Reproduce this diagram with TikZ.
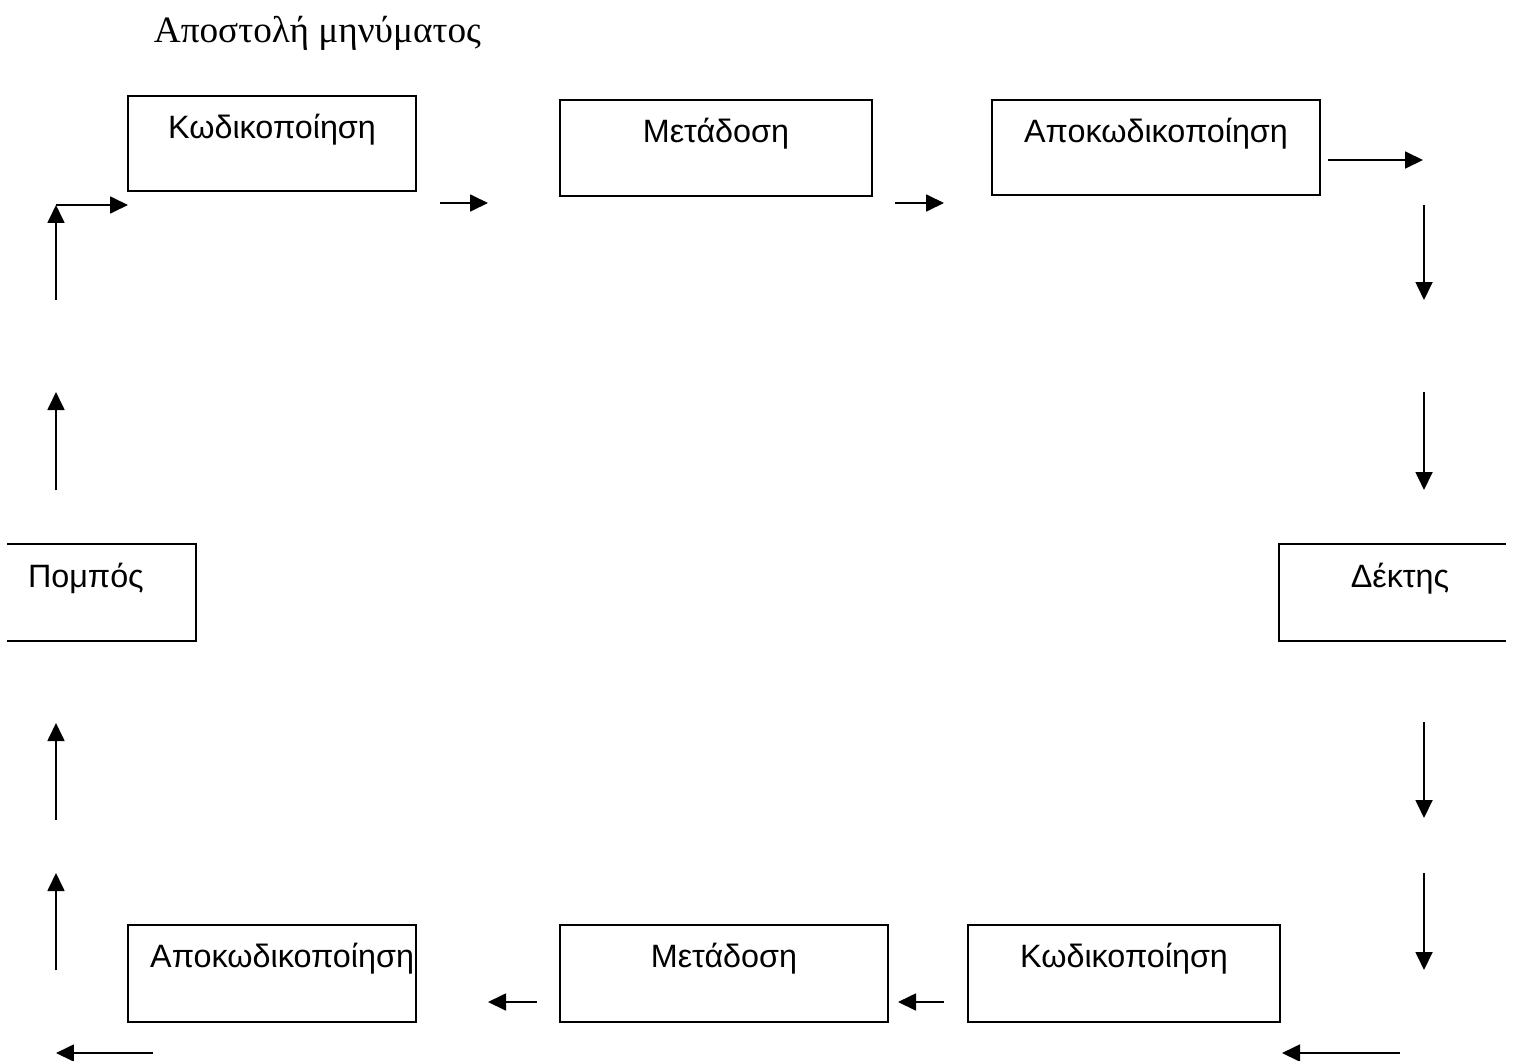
\documentclass[tikz,border=0pt]{standalone}
\usepackage{fontspec}
\setmainfont{Liberation Serif}
\setsansfont{Liberation Sans}
\usetikzlibrary{arrows.meta}

\tikzset{
  stage/.style={inner xsep=0pt, inner ysep=0pt, text height=0.84cm,
    font=\sffamily\fontsize{18.4}{22}\selectfont},
  flow/.style={line width=1pt, -{Triangle[length=0.36cm, width=0.34cm]}}
}

\begin{document}
\begin{tikzpicture}[x=0.02cm, y=-0.02cm, line width=1pt]
    % Page frame
    \useasboundingbox (0,0) rectangle (1514,1061);

    % Title
    \node[anchor=base west, inner sep=0pt, font=\fontsize{21.2}{25}\selectfont]
        (title) at (153,43) {Αποστολή μηνύματος};

    % Top row of boxes
    \node[stage, draw, minimum width=5.76cm, text depth=1.06cm] (kod1) at (272,143.5) {Κωδικοποίηση};
    \node[stage, draw, minimum width=6.24cm, text depth=1.08cm] (met1) at (716,148) {Μετάδοση};
    \node[stage, draw, minimum width=6.56cm, text depth=1.06cm] (apo1) at (1156,147.5) {Αποκωδικοποίηση};

    % Sender and receiver, open on the outer side
    \node[stage, text width=2.94cm, inner xsep=0.4cm, align=left, text depth=1.06cm] (pomp) at (101.5,592.5) {Πομπός};
    \draw (pomp.north west) -- (pomp.north east) -- (pomp.south east) -- (pomp.south west);
    \node[stage, text width=4.3cm, inner xsep=0.1cm, align=center, text depth=1.06cm] (dekt) at (1392.5,592.5) {\hspace*{0.3cm}Δέκτης};
    \draw (dekt.north east) -- (dekt.north west) -- (dekt.south west) -- (dekt.south east);

    % Bottom row of boxes
    \node[stage, draw, text width=5.68cm, inner xsep=0.04cm, align=right, text depth=1.1cm] (apo2) at (272,973.5) {Αποκωδικοποίηση};
    \node[stage, draw, minimum width=6.56cm, text depth=1.1cm] (met2) at (724,973.5) {Μετάδοση};
    \node[stage, draw, minimum width=6.24cm, text depth=1.1cm] (kod2) at (1124,973.5) {Κωδικοποίηση};

    % Arrows round the loop
    \foreach \n/\xa/\ya/\xb/\yb in {
        1/56/300/56/205, 2/56/205/128/205, 3/440/203/488/203, 4/895/203/944/203,
        5/1328/160/1423/160, 6/1424/205/1424/300, 7/1424/392/1424/490,
        8/1424/722/1424/818, 9/1424/873/1424/970, 10/1400/1053/1282/1053,
        11/944/1002/898/1002, 12/537/1002/488/1002, 13/153/1053/56/1053,
        14/56/970/56/873, 15/56/820/56/723, 16/56/490/56/392} {
        \coordinate (s\n) at (\xa,\ya);
        \coordinate (e\n) at (\xb,\yb);
        \draw[flow] (s\n) -- (e\n);
    }

\end{tikzpicture}
\end{document}
